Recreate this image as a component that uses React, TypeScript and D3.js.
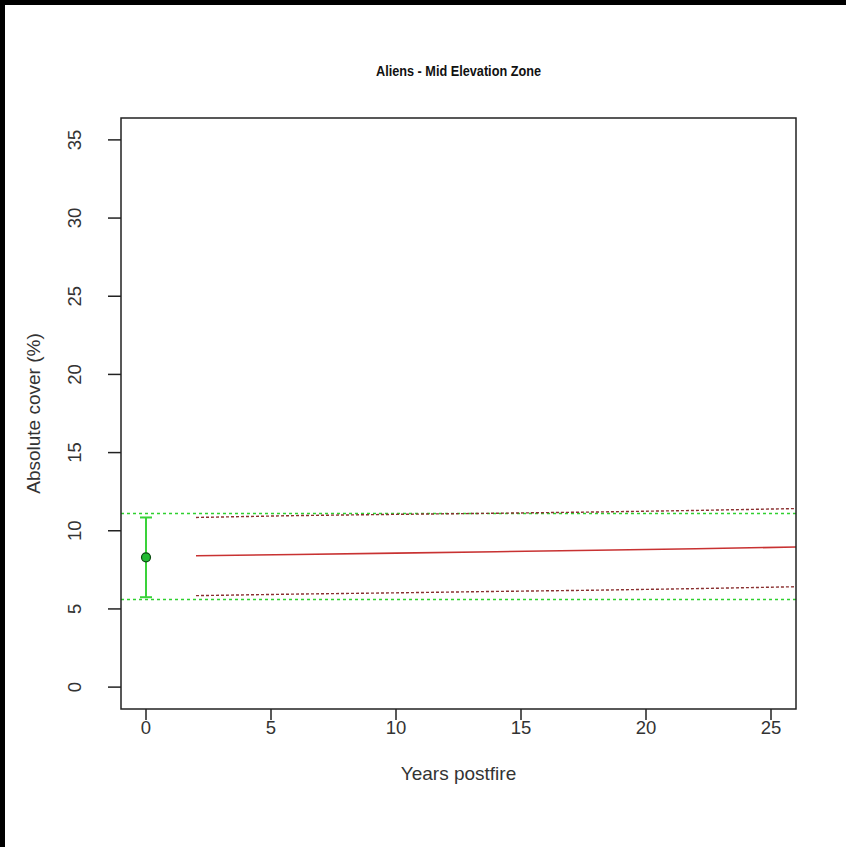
import React from "react";
import * as d3 from "d3";

const W = 846;
const H = 847;

const xTicks = [0, 5, 10, 15, 20, 25];
const yTicks = [0, 5, 10, 15, 20, 25, 30, 35];

// observed (green) at year 0
const obsYear = [0];
const obsMean = [8.3];
const obsLow = [5.75];
const obsHigh = [10.85];
const refBands = [5.6, 11.1];

// modelled (red) trajectory
const modYears = [2, 6, 10, 14, 18, 22, 26];
const modMean = [8.4, 8.48, 8.57, 8.66, 8.75, 8.85, 8.96];
const modUpper = [10.85, 10.97, 11.05, 11.12, 11.2, 11.3, 11.42];
const modLower = [5.85, 5.95, 6.03, 6.12, 6.2, 6.3, 6.42];

const title = "Aliens - Mid Elevation Zone";
const xLabel = "Years postfire";
const yLabel = "Absolute cover (%)";

export default function App() {
  const left = 121, right = 796, top = 118, bottom = 709;
  const x = d3.scaleLinear().domain([-1, 26]).range([left, right]);
  const y = d3.scaleLinear().domain([-1.4, 36.4]).range([bottom, top]);
  const font = "'Liberation Sans', Arial, sans-serif";
  const line = d3
    .line<[number, number]>()
    .x((d) => x(d[0]))
    .y((d) => y(d[1]));
  const pts = (vals: number[]) => modYears.map((yr, i) => [yr, vals[i]] as [number, number]);
  const tick = 11;

  return (
    <svg
      width={W}
      height={H}
      style={{ position: "absolute", left: 0, top: 0, background: "#fff" }}
      fontFamily={font}
    >
      <rect x={0} y={0} width={W} height={H} fill="#fff" />
      <rect x={0} y={0} width={W} height={5} fill="#000" />
      <rect x={0} y={0} width={5} height={H} fill="#000" />

      <text
        x={(left + right) / 2}
        y={76}
        textAnchor="middle"
        fontSize={15}
        fontWeight="bold"
        fill="#111"
        textLength={165}
        lengthAdjust="spacingAndGlyphs"
      >
        {title}
      </text>

      {/* reference band lines */}
      {refBands.map((v, i) => (
        <line key={"rb" + i} x1={left} x2={right} y1={y(v)} y2={y(v)} stroke="#2fd02f" strokeWidth={1.5} strokeDasharray="3,3" />
      ))}

      {/* model lines */}
      <path d={line(pts(modUpper)) || ""} fill="none" stroke="#8a3030" strokeWidth={1.4} strokeDasharray="3,2" />
      <path d={line(pts(modLower)) || ""} fill="none" stroke="#8a3030" strokeWidth={1.4} strokeDasharray="3,2" />
      <path d={line(pts(modMean)) || ""} fill="none" stroke="#c83232" strokeWidth={1.6} />

      {/* observed */}
      {obsYear.map((yr, i) => (
        <g key={"o" + i}>
          <line x1={x(yr)} x2={x(yr)} y1={y(obsLow[i])} y2={y(obsHigh[i])} stroke="#3ad23a" strokeWidth={2} />
          <line x1={x(yr) - 6} x2={x(yr) + 6} y1={y(obsLow[i])} y2={y(obsLow[i])} stroke="#3ad23a" strokeWidth={2} />
          <line x1={x(yr) - 6} x2={x(yr) + 6} y1={y(obsHigh[i])} y2={y(obsHigh[i])} stroke="#3ad23a" strokeWidth={2} />
          <circle cx={x(yr)} cy={y(obsMean[i])} r={4.5} fill="#22bb33" stroke="#0a4a10" strokeWidth={1.2} />
        </g>
      ))}

      {/* frame */}
      <rect x={left} y={top} width={right - left} height={bottom - top} fill="none" stroke="#222" strokeWidth={1.5} />

      {/* x axis */}
      {xTicks.map((t) => (
        <g key={"x" + t}>
          <line x1={x(t)} x2={x(t)} y1={bottom} y2={bottom + tick} stroke="#222" strokeWidth={1.5} />
          <text x={x(t)} y={734} textAnchor="middle" fontSize={18.5} fill="#333">
            {t}
          </text>
        </g>
      ))}
      <text x={(left + right) / 2} y={780} textAnchor="middle" fontSize={19} fill="#333">
        {xLabel}
      </text>

      {/* y axis */}
      {yTicks.map((t) => (
        <g key={"y" + t}>
          <line x1={left - tick - 2} x2={left} y1={y(t)} y2={y(t)} stroke="#222" strokeWidth={1.5} />
          <text
            transform={`translate(81, ${y(t)}) rotate(-90)`}
            textAnchor="middle"
            fontSize={18.5}
            fill="#333"
          >
            {t}
          </text>
        </g>
      ))}
      <text
        transform={`translate(40, ${(top + bottom) / 2}) rotate(-90)`}
        textAnchor="middle"
        fontSize={19}
        fill="#333"
      >
        {yLabel}
      </text>
    </svg>
  );
}
